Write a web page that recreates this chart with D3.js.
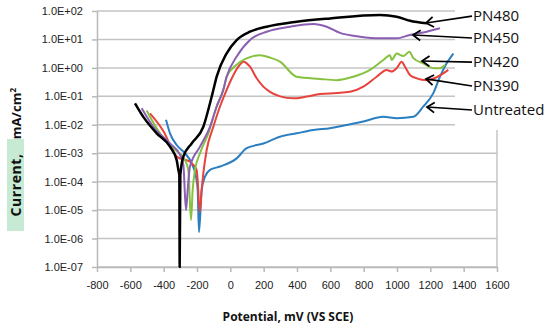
<!DOCTYPE html>
<html>
<head>
<meta charset="utf-8">
<script src="https://cdn.jsdelivr.net/npm/d3@7"></script>
<style>
  body { margin: 0; background: #fff; }
  svg { display: block; font-family: "Open Sans", "Noto Sans", sans-serif; }
  .tick text { font-size: 11px; fill: #222; }
</style>
</head>
<body>
<svg id="chart" width="550" height="331"></svg>
<script>
// potential (mV vs SCE) and current density (mA/cm2)
const untreatedMv = [-386, -362, -322, -272, -232, -206, -196, -188, -172, -152, -122, -62, 38, 98, 198, 298, 398, 498, 598, 698, 798, 918, 998, 1098, 1158, 1218, 1258, 1298, 1338]
const untreatedI  = [1.5e-2, 5e-3, 1.95e-3, 1e-3, 4.4e-4, 1.5e-4, 5.1e-5, 1.7e-6, 5.1e-5, 1.5e-4, 2.6e-4, 3.4e-4, 6.6e-4, 1.5e-3, 2.2e-3, 3.8e-3, 5e-3, 6.6e-3, 7.6e-3, 9.8e-3, 1.3e-2, 1.9e-2, 1.7e-2, 1.9e-2, 4.4e-2, 0.13, 0.49, 1.45, 3.2]

const pn390Mv = [-482, -402, -322, -242, -202, -182, -172, -162, -142, -102, -62, -22, 18, 48, 78, 118, 158, 198, 238, 298, 378, 458, 538, 638, 718, 798, 878, 938, 968, 998, 1028, 1048, 1078, 1118, 1178, 1238, 1308]
const pn390I  = [2.5e-2, 6e-3, 7.6e-4, 5e-4, 2.6e-4, 8.7e-6, 5.1e-5, 1.95e-4, 1.3e-3, 8.5e-3, 4.4e-2, 0.17, 0.55, 1.1, 1.66, 1.1, 0.43, 0.22, 0.144, 0.1, 0.085, 0.098, 0.12, 0.13, 0.144, 0.22, 0.49, 0.85, 0.74, 0.98, 1.66, 1.1, 0.56, 0.43, 0.37, 0.47, 0.85]

const pn420Mv = [-502, -422, -342, -272, -252, -236, -226, -212, -182, -132, -82, -42, -22, 38, 118, 178, 238, 298, 398, 538, 638, 738, 838, 918, 958, 968, 998, 1038, 1074, 1098, 1158, 1218, 1258, 1288]
const pn420I  = [3.2e-2, 5e-3, 1.5e-3, 5.7e-4, 2.6e-4, 4.5e-6, 5.1e-5, 2.6e-4, 1e-3, 5e-3, 4.4e-2, 0.17, 0.49, 1.3, 2.4, 2.8, 2.3, 1.66, 0.49, 0.41, 0.37, 0.49, 0.85, 1.9, 2.8, 1.9, 3.2, 2.6, 3.7, 2.2, 1.44, 0.98, 0.98, 1.26]

const pn450Mv = [-532, -462, -362, -302, -282, -266, -256, -242, -182, -122, -82, -42, -22, 38, 118, 218, 358, 498, 578, 658, 778, 898, 998, 1078, 1178, 1258]
const pn450I  = [3.8e-2, 8.5e-3, 2.2e-3, 8.7e-4, 3.9e-4, 1e-5, 5.1e-5, 3.4e-4, 1.7e-3, 8.5e-3, 4.4e-2, 0.17, 0.49, 2.5, 9.6, 18.7, 28, 35, 28, 17, 12.5, 11, 11, 14.4, 18.7, 24.6]

const pn480Mv = [-572, -522, -442, -362, -322, -312, -306, -304, -300, -282, -232, -162, -122, -102, -82, -22, 38, 118, 218, 398, 598, 898, 998, 1078, 1178]
const pn480I  = [5.7e-2, 1.9e-2, 5e-3, 1.7e-3, 5.7e-4, 2.6e-4, 1.7e-4, 1e-7, 1.7e-4, 7.6e-4, 2.2e-3, 8.5e-3, 5.7e-2, 0.166, 0.49, 3.26, 9.5, 18.7, 28, 42, 55, 72, 63, 45.5, 37]

const seriesNames  = ["Untreated", "PN390", "PN420", "PN450", "PN480"]
const seriesColors = ["#2a7fc0", "#e8423c", "#86c140", "#8a5fb3", "#000000"]

// annotation labels: arrow tip (mV, current) and label height (current)
const labelTipMv = [1180, 1174, 1150, 1096, 1174]
const labelTipI  = [0.042, 0.41, 1.75, 14.3, 37.8]
const labelAtI   = [0.033, 0.23, 1.6, 11.2, 66]
const labelMv    = 1450

const yTicks = [1e-7, 1e-6, 1e-5, 1e-4, 1e-3, 1e-2, 1e-1, 1, 10, 100]
const xTicks = d3.range(-800, 1601, 200)

let svg = d3.select('#chart')
let pad_left = 97, pad_right = 53, pad_top = 11, pad_bottom = 64
let width = 550, height = 331

let xScale = d3.scaleLinear().domain([-800, 1600]).range([pad_left, width - pad_right])
let yScale = d3.scaleLog().domain([1e-7, 100]).range([height - pad_bottom, pad_top])

// gridlines
svg.append('g').selectAll('line').data(yTicks).join('line')
   .attr('x1', pad_left).attr('x2', width - pad_right)
   .attr('y1', d => yScale(d)).attr('y2', d => yScale(d))
   .attr('stroke', '#c4c4c4').attr('stroke-width', 1.5)

// right border of plot area
svg.append('line').attr('x1', width - pad_right).attr('x2', width - pad_right)
   .attr('y1', pad_top).attr('y2', height - pad_bottom)
   .attr('stroke', '#c4c4c4').attr('stroke-width', 1.5)

// white box behind the labels
svg.append('rect').attr('x', 455).attr('y', 0).attr('width', 95).attr('height', 130).attr('fill', '#fff')

let fmt = d => {
    let e = Math.round(Math.log10(d))
    return '1.0E' + (e < 0 ? '-' : '+') + String(Math.abs(e)).padStart(2, '0')
}

let yAxis = d3.axisLeft(yScale).tickValues(yTicks).tickFormat(fmt).tickSize(5).tickSizeOuter(0).tickPadding(9)
let gy = svg.append('g').attr('transform', `translate(${pad_left},0)`).call(yAxis)
gy.selectAll('line, path').attr('stroke', '#b8b8b8').attr('stroke-width', 1.5)

let xAxis = d3.axisBottom(xScale).tickValues(xTicks).tickSize(5).tickSizeOuter(0).tickPadding(9)
let gx = svg.append('g').attr('transform', `translate(0,${height - pad_bottom})`).call(xAxis)
gx.selectAll('line, path').attr('stroke', '#b8b8b8').attr('stroke-width', 1.5)
gx.selectAll('text').text(d => d)

// curves
let allMv = [untreatedMv, pn390Mv, pn420Mv, pn450Mv, pn480Mv]
let allI = [untreatedI, pn390I, pn420I, pn450I, pn480I]
let curves = seriesNames.map((name, i) => ({
    name: name,
    color: seriesColors[i],
    values: allMv[i].map((mv, j) => ({mv: mv, i: allI[i][j]}))
}))

let line = d3.line().x(d => xScale(d.mv)).y(d => yScale(d.i)).curve(d3.curveMonotoneX)

svg.append('g').selectAll('path').data(curves).join('path')
   .attr('fill', 'none')
   .attr('stroke', d => d.color)
   .attr('stroke-width', d => d.name === 'PN480' ? 2.5 : 2)
   .attr('stroke-linejoin', 'round')
   .attr('d', d => line(d.values))

// labels with arrows
let ann = svg.append('g')
seriesNames.forEach((name, i) => {
    let tx = xScale(labelTipMv[i]), ty = yScale(labelTipI[i])
    let lx = xScale(labelMv), ly = yScale(labelAtI[i])
    ann.append('line').attr('x1', lx).attr('y1', ly).attr('x2', tx).attr('y2', ty)
       .attr('stroke', '#000').attr('stroke-width', 1.6)
    let a = Math.atan2(ly - ty, lx - tx)
    let arm = 9, spread = 0.6
    let p1 = [tx + arm * Math.cos(a - spread), ty + arm * Math.sin(a - spread)]
    let p2 = [tx + arm * Math.cos(a + spread), ty + arm * Math.sin(a + spread)]
    ann.append('path').attr('d', `M${p1}L${tx},${ty}L${p2}`)
       .attr('fill', 'none').attr('stroke', '#000').attr('stroke-width', 1.8)
    ann.append('text').text(name).attr('x', lx + 1).attr('y', ly)
       .attr('dy', '0.35em').attr('font-size', 15).attr('fill', '#111')
})

// axis titles
svg.append('text').text('Potential, mV (VS SCE)')
   .attr('x', 288).attr('y', 321).attr('text-anchor', 'middle')
   .attr('font-size', 12).attr('font-weight', 'bold').attr('fill', '#111')

svg.append('rect').attr('x', 7).attr('y', 139).attr('width', 17).attr('height', 92).attr('fill', '#c6ead3')
svg.append('text').attr('transform', 'translate(21,185) rotate(-90)')
   .attr('text-anchor', 'middle').attr('font-size', 14).attr('font-weight', 'bold').attr('fill', '#111')
   .attr('letter-spacing', 0.6)
   .text('Current,')
let yt2 = svg.append('text').attr('transform', 'translate(21,88) rotate(-90)')
   .attr('text-anchor', 'end').attr('font-size', 13).attr('font-weight', 'bold').attr('fill', '#111')
yt2.append('tspan').text('mA/cm')
yt2.append('tspan').text('2').attr('font-size', 8).attr('dy', -5)
</script>
</body>
</html>
